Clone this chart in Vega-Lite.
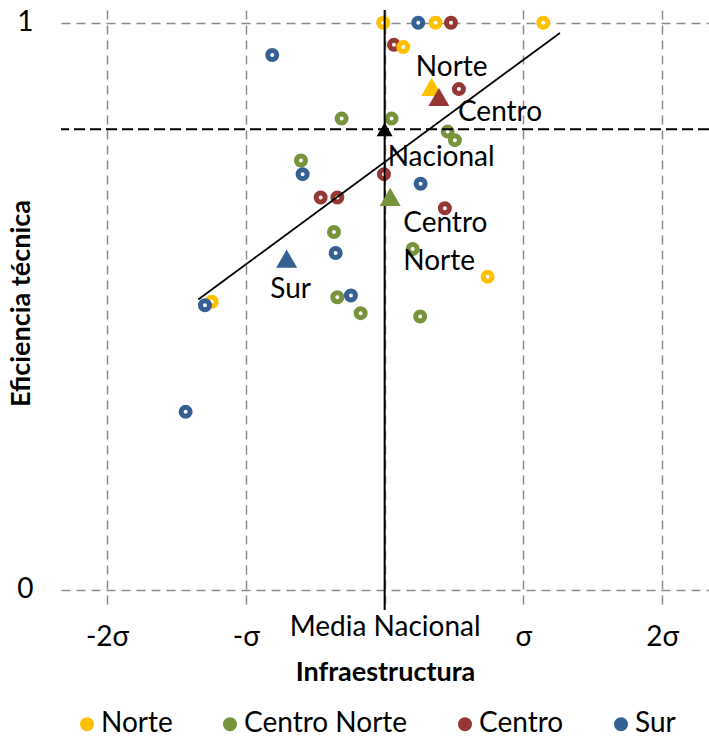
{
  "$schema": "https://vega.github.io/schema/vega-lite/v6.json",
  "width": 648,
  "height": 600,
  "autosize": {"type": "none"},
  "padding": {"left": 61, "top": 10, "right": 0, "bottom": 130},
  "background": "white",
  "config": {
    "view": {"stroke": null},
    "font": "Lato",
    "axis": {
      "domain": false,
      "ticks": false,
      "grid": true,
      "gridColor": "#8c8c8c",
      "gridDash": [9, 6],
      "gridWidth": 1.5,
      "labelFont": "Lato",
      "labelFontSize": 28,
      "labelColor": "black",
      "labelLimit": 0,
      "titleFont": "Lato",
      "titleFontSize": 27,
      "titleFontWeight": "bold",
      "titleColor": "black",
      "labelOverlap": false,
      "labelFlush": false,
      "labelBound": false
    }
  },
  "datasets": {
    "points": [
      {"group": "Centro", "x": 0.478, "y": 1.0},
      {"group": "Centro", "x": 0.067, "y": 0.961},
      {"group": "Centro", "x": 0.535, "y": 0.883},
      {"group": "Centro", "x": -0.005, "y": 0.733},
      {"group": "Centro", "x": -0.461, "y": 0.692},
      {"group": "Centro", "x": -0.341, "y": 0.692},
      {"group": "Centro", "x": 0.434, "y": 0.673},
      {"group": "Norte", "x": -0.01, "y": 1.0},
      {"group": "Norte", "x": 0.367, "y": 1.0},
      {"group": "Norte", "x": 1.143, "y": 1.0},
      {"group": "Norte", "x": 0.134, "y": 0.957},
      {"group": "Norte", "x": 0.742, "y": 0.552},
      {"group": "Norte", "x": -1.246, "y": 0.508},
      {"group": "Centro Norte", "x": -0.31, "y": 0.831},
      {"group": "Centro Norte", "x": 0.05, "y": 0.831},
      {"group": "Centro Norte", "x": 0.454, "y": 0.808},
      {"group": "Centro Norte", "x": 0.506, "y": 0.793},
      {"group": "Centro Norte", "x": -0.603, "y": 0.757},
      {"group": "Centro Norte", "x": -0.365, "y": 0.631},
      {"group": "Centro Norte", "x": 0.202, "y": 0.601},
      {"group": "Centro Norte", "x": -0.341, "y": 0.516},
      {"group": "Centro Norte", "x": -0.173, "y": 0.488},
      {"group": "Centro Norte", "x": 0.256, "y": 0.482},
      {"group": "Sur", "x": 0.242, "y": 1.0},
      {"group": "Sur", "x": -0.81, "y": 0.943},
      {"group": "Sur", "x": -0.591, "y": 0.733},
      {"group": "Sur", "x": 0.259, "y": 0.716},
      {"group": "Sur", "x": -0.353, "y": 0.594},
      {"group": "Sur", "x": -0.243, "y": 0.519},
      {"group": "Sur", "x": -1.295, "y": 0.502},
      {"group": "Sur", "x": -1.434, "y": 0.314}
    ],
    "means": [
      {"group": "Sur", "x": -0.706, "y": 0.584},
      {"group": "Centro Norte", "x": 0.04, "y": 0.693},
      {"group": "Norte", "x": 0.339, "y": 0.887},
      {"group": "Centro", "x": 0.391, "y": 0.869},
      {"group": "Nacional", "x": 0.0, "y": 0.812}
    ],
    "trend": [
      {"x": -1.343, "y": 0.512},
      {"x": 1.263, "y": 0.982}
    ],
    "vline": [{"x": 0}],
    "hline": [{"y": 0.812}]
  },
  "layer": [
    {
      "data": {"name": "points"},
      "mark": {"type": "point", "shape": "circle", "filled": false, "fill": "white", "strokeWidth": 5, "size": 81, "opacity": 1},
      "encoding": {
        "x": {
          "field": "x", "type": "quantitative",
          "scale": {"domain": [-2.332, 2.337], "nice": false, "zero": false},
          "axis": {
            "values": [-2, -1, 0, 1, 2],
            "title": "Infraestructura",
            "labelExpr": "datum.value == -2 ? '-2σ' : datum.value == -1 ? '-σ' : datum.value == 0 ? 'Media Nacional' : datum.value == 1 ? 'σ' : '2σ'",
            "labelPadding": {"condition": {"test": "datum.value == 0", "value": 3}, "value": 13},
            "titleY": 70,
            "titleBaseline": "alphabetic"
          }
        },
        "y": {
          "field": "y", "type": "quantitative",
          "scale": {"domain": [-0.0353, 1.0224], "nice": false, "zero": false},
          "axis": {
            "values": [0, 1],
            "format": "d",
            "title": "Eficiencia técnica",
            "labelPadding": 28,
            "titleAngle": -90,
            "titleAlign": "center",
            "titleBaseline": "alphabetic",
            "titleX": -32,
            "titleY": 293
          }
        },
        "stroke": {
          "field": "group", "type": "nominal",
          "scale": {"domain": ["Norte", "Centro Norte", "Centro", "Sur"], "range": ["#FFC000", "#77933C", "#953735", "#376092"]},
          "legend": {
            "title": null,
            "orient": "none",
            "legendX": 12,
            "legendY": 700,
            "direction": "horizontal",
            "symbolType": "circle",
            "symbolSize": 81,
            "symbolStrokeWidth": 5,
            "symbolFillColor": "white",
            "labelFont": "Lato",
            "labelFontSize": 28,
            "labelColor": "black",
            "labelLimit": 0,
            "labelOffset": 0,
            "columnPadding": 42,
            "encode": {
              "symbols": {
                "update": {
                  "fill": {"value": "white"},
                  "strokeWidth": {"value": 5},
                  "size": {"value": 81}
                }
              }
            }
          }
        }
      }
    },
    {
      "data": {"name": "vline"},
      "mark": {"type": "rule", "color": "black", "strokeWidth": 2},
      "encoding": {
        "x": {"field": "x", "type": "quantitative"}
      }
    },
    {
      "data": {"name": "hline"},
      "mark": {"type": "rule", "color": "black", "strokeWidth": 2, "strokeDash": [11, 5]},
      "encoding": {
        "y": {"field": "y", "type": "quantitative"}
      }
    },
    {
      "data": {"name": "trend"},
      "mark": {"type": "line", "color": "black", "strokeWidth": 1.8},
      "encoding": {
        "x": {"field": "x", "type": "quantitative"},
        "y": {"field": "y", "type": "quantitative"}
      }
    },
    {
      "data": {"name": "means"},
      "transform": [{"filter": "datum.group != 'Nacional'"}],
      "mark": {"type": "point", "shape": "triangle-up", "filled": true, "size": 441, "opacity": 1},
      "encoding": {
        "x": {"field": "x", "type": "quantitative"},
        "y": {"field": "y", "type": "quantitative"},
        "fill": {
          "field": "group", "type": "nominal",
          "scale": {"domain": ["Norte", "Centro Norte", "Centro", "Sur"], "range": ["#FFC000", "#77933C", "#953735", "#376092"]},
          "legend": null
        }
      }
    },
    {
      "data": {"name": "means"},
      "transform": [{"filter": "datum.group == 'Nacional'"}],
      "mark": {"type": "point", "shape": "triangle-up", "filled": true, "size": 256, "color": "black", "opacity": 1},
      "encoding": {
        "x": {"field": "x", "type": "quantitative"},
        "y": {"field": "y", "type": "quantitative"}
      }
    },
    {
      "data": {"name": "means"},
      "transform": [{"filter": "datum.group == 'Norte'"}],
      "mark": {"type": "text", "font": "Lato", "fontSize": 28, "color": "black", "align": "center", "baseline": "middle", "dx": 20, "dy": -19},
      "encoding": {
        "x": {"field": "x", "type": "quantitative"},
        "y": {"field": "y", "type": "quantitative"},
        "text": {"field": "group"}
      }
    },
    {
      "data": {"name": "means"},
      "transform": [{"filter": "datum.group == 'Centro'"}],
      "mark": {"type": "text", "font": "Lato", "fontSize": 28, "color": "black", "align": "left", "baseline": "middle", "dx": 19, "dy": 16},
      "encoding": {
        "x": {"field": "x", "type": "quantitative"},
        "y": {"field": "y", "type": "quantitative"},
        "text": {"field": "group"}
      }
    },
    {
      "data": {"name": "means"},
      "transform": [{"filter": "datum.group == 'Nacional'"}],
      "mark": {"type": "text", "font": "Lato", "fontSize": 28, "color": "black", "align": "left", "baseline": "middle", "dx": 3, "dy": 29},
      "encoding": {
        "x": {"field": "x", "type": "quantitative"},
        "y": {"field": "y", "type": "quantitative"},
        "text": {"field": "group"}
      }
    },
    {
      "data": {"name": "means"},
      "transform": [{"filter": "datum.group == 'Centro Norte'"}],
      "mark": {"type": "text", "font": "Lato", "fontSize": 28, "color": "black", "align": "left", "baseline": "top", "lineBreak": " ", "lineHeight": 38, "dx": 13, "dy": 13},
      "encoding": {
        "x": {"field": "x", "type": "quantitative"},
        "y": {"field": "y", "type": "quantitative"},
        "text": {"field": "group"}
      }
    },
    {
      "data": {"name": "means"},
      "transform": [{"filter": "datum.group == 'Sur'"}],
      "mark": {"type": "text", "font": "Lato", "fontSize": 28, "color": "black", "align": "center", "baseline": "middle", "dx": 4, "dy": 31},
      "encoding": {
        "x": {"field": "x", "type": "quantitative"},
        "y": {"field": "y", "type": "quantitative"},
        "text": {"field": "group"}
      }
    }
  ]
}
